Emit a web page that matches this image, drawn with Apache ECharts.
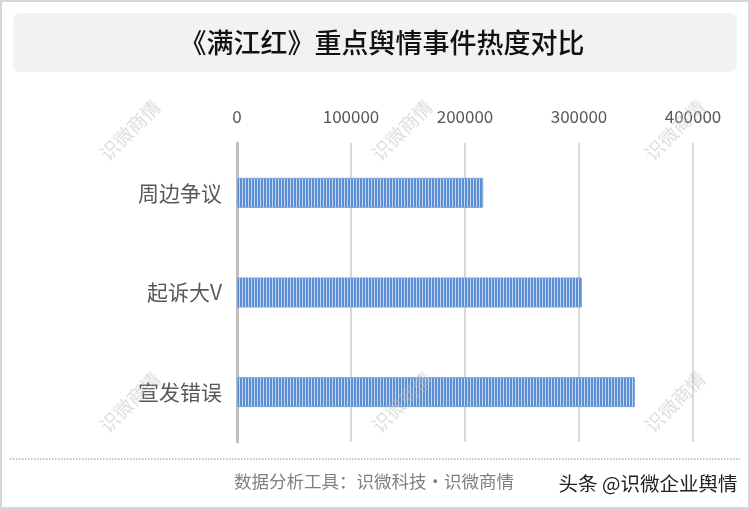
<!DOCTYPE html>
<html><head><meta charset="utf-8">
<script src="https://cdn.jsdelivr.net/npm/echarts@6/dist/echarts.min.js"></script>
<style>html,body{margin:0;padding:0;background:#fff}#c{width:750px;height:509px}</style>
</head><body><div id="c"></div>
<script>
const categories = ['周边争议', '起诉大V', '宣发错误'];
const heatValues = [216000, 302500, 349000];
const tickMax = 400000;
const tickInterval = 100000;
const titleText = '《满江红》重点舆情事件热度对比';
const footerSource = '数据分析工具：识微科技・识微商情';
const footerBrand = '头条 @识微企业舆情';
const watermarkText = '识微商情';

const pc = document.createElement('canvas');
pc.width = 3; pc.height = 4;
const px = pc.getContext('2d');
px.fillStyle = '#c4d8f3'; px.fillRect(0,0,3,4);
px.fillStyle = '#5a8fd3'; px.fillRect(0,0,2,4);

const chart = echarts.init(document.getElementById('c'), null, {renderer:'canvas'});
const wmPos = [[130,130],[402,130],[675,130],[130,402],[402,402],[675,402]];
const graphics = [
  {type:'rect', z:-10, shape:{x:1,y:1,width:748,height:507}, style:{fill:'#fff', stroke:'#d6d6d6', lineWidth:2}},
  {type:'rect', z:-5, shape:{x:13,y:13,width:724,height:59,r:8}, style:{fill:'#f2f2f2'}},
  {type:'text', z:10, x:382, y:43, style:{text:titleText, fill:'#111', font:'500 27px "Noto Sans CJK SC"', align:'center', verticalAlign:'middle'}},
  {type:'line', shape:{x1:10,y1:459,x2:740,y2:459}, style:{stroke:'#8c8c8c', lineWidth:1.2, lineDash:[1.5,1.5]}},
  {type:'text', x:374, y:481, style:{text:footerSource, fill:'#808080', font:'17.5px "Noto Sans CJK SC"', align:'center', verticalAlign:'middle'}},
  {type:'text', x:648, y:484, style:{text:footerBrand, fill:'#222', font:'19.5px "Noto Sans CJK SC"', align:'center', verticalAlign:'middle'}}
];
wmPos.forEach(p => graphics.push({type:'text', z:100, x:p[0], y:p[1], rotation:Math.PI/4,
  style:{text:watermarkText, fill:'rgba(190,190,190,0.5)', font:'19px "Noto Sans CJK SC"', align:'center', verticalAlign:'middle'}}));

chart.setOption({
  animation:false,
  grid:{left:237, right:57, top:143, bottom:67, containLabel:false},
  xAxis:{type:'value', position:'top', min:0, max:tickMax, interval:tickInterval,
    axisLine:{show:false}, axisTick:{show:false},
    axisLabel:{color:'#595959', fontSize:17, margin:18, fontFamily:'"Noto Sans CJK SC"', formatter: v => String(v)},
    splitLine:{show:true, lineStyle:{color:'#d9d9d9', width:2}}},
  yAxis:{type:'category', data:categories, inverse:true,
    axisLine:{show:true, lineStyle:{color:'#bfbfbf', width:3}}, axisTick:{show:false},
    axisLabel:{color:'#595959', fontSize:21, margin:15, fontFamily:'"Noto Sans CJK SC"'}},
  series:[{type:'bar', data:heatValues, barWidth:30,
    itemStyle:{color:{image:pc, repeat:'repeat'}, borderColor:'#7aa3dc', borderWidth:1}}],
  graphic:graphics
});
</script></body></html>
